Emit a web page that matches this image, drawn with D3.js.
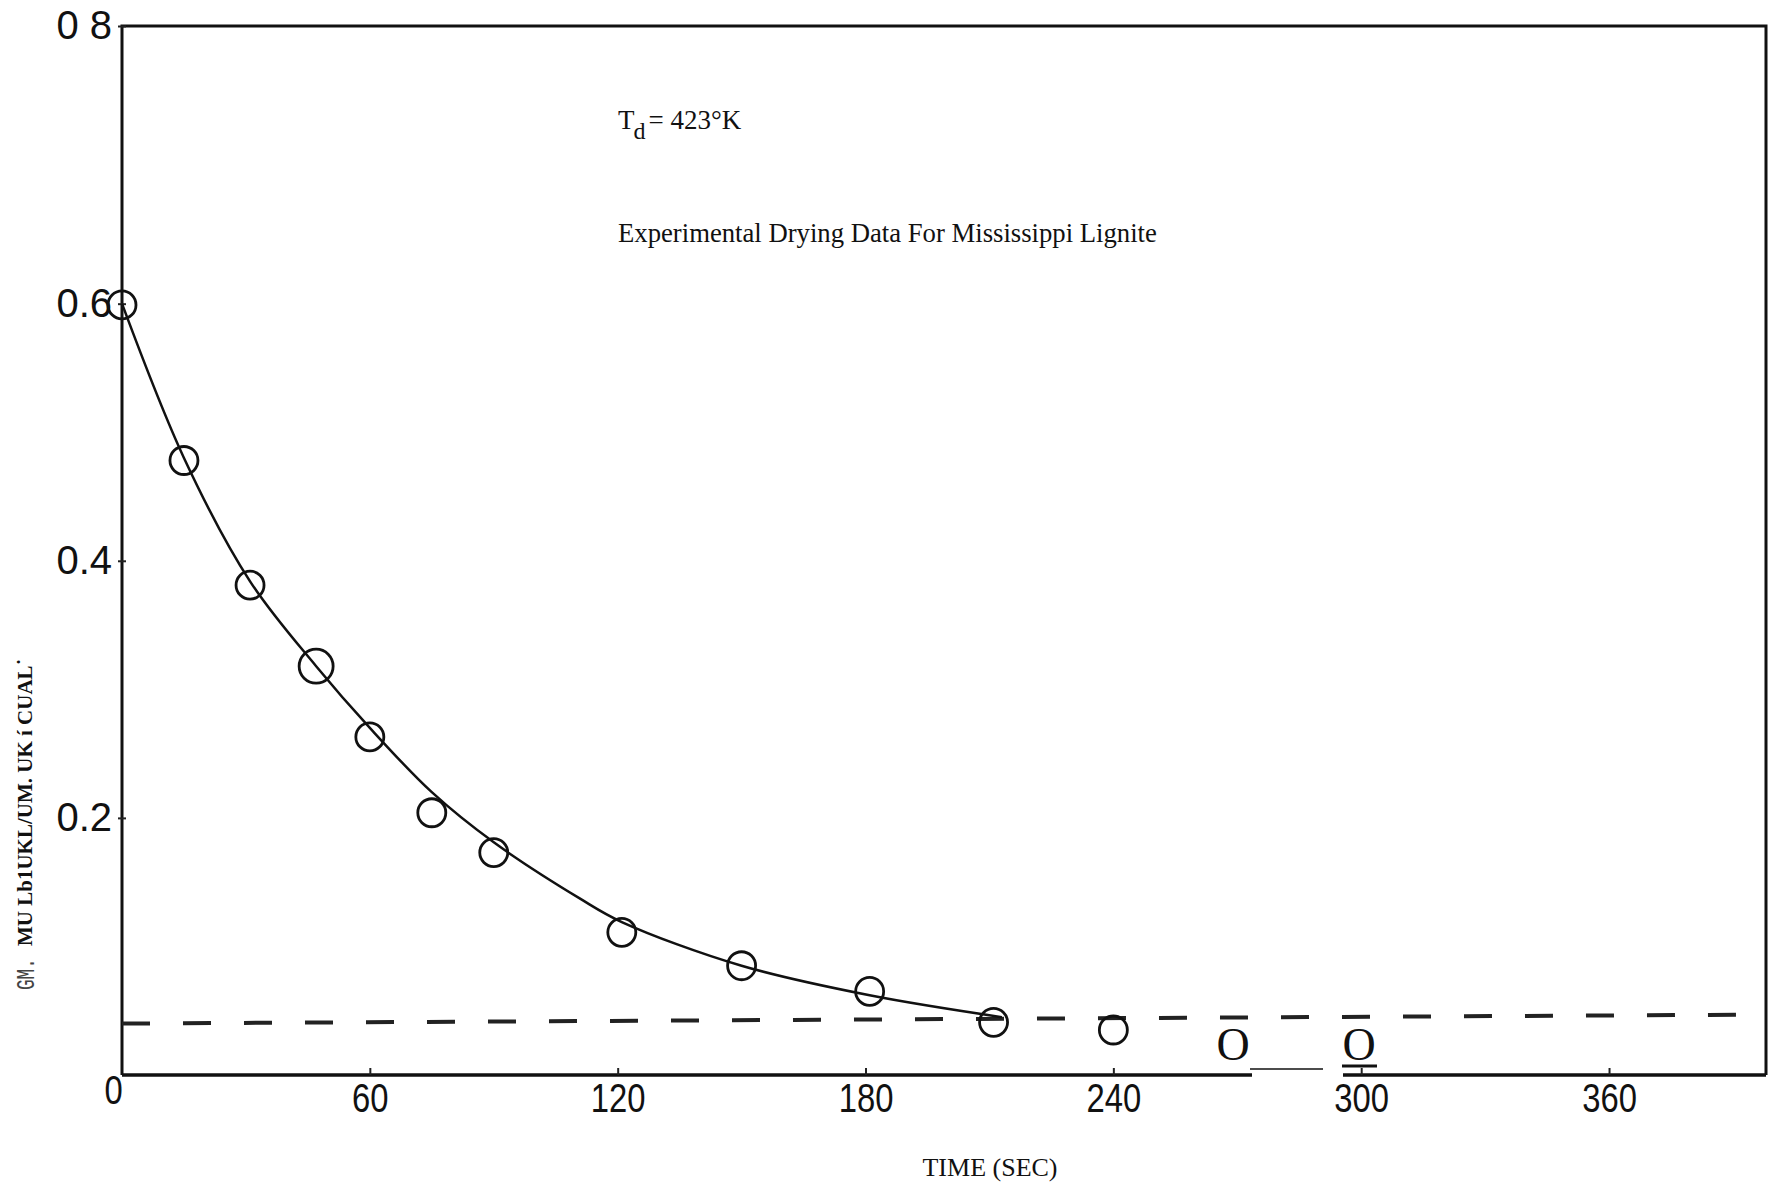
<!DOCTYPE html>
<html>
<head>
<meta charset="utf-8">
<script src="https://cdn.jsdelivr.net/npm/d3@7"></script>
<style>
  body { margin: 0; background: #fff; }
  svg { display: block; }
</style>
</head>
<body>
<div id="chart"></div>
<script>
const timeSec = [0, 15, 31, 47, 60, 75, 90, 121, 150, 181, 211, 240];
const moisture = [0.599, 0.478, 0.381, 0.318, 0.263, 0.204, 0.173, 0.111, 0.085, 0.065, 0.041, 0.035];

// hand drawn fit line
const curveTime = [0, 15, 31, 47, 60, 75, 90, 111, 121, 150, 181, 213];
const curveMoisture = [0.600, 0.480, 0.384, 0.318, 0.270, 0.220, 0.181, 0.137, 0.119, 0.085, 0.062, 0.045];

// equilibrium (dashed) line
const equilTime = [0, 398];
const equilMoisture = [0.040, 0.047];

const xTicks = [0, 60, 120, 180, 240, 300, 360];
const yTicks = [0.2, 0.4, 0.6, 0.816];
const yTickLabels = ["0.2", "0.4", "0.6", "0 8"];

const W = 1774, H = 1189;
const margin = { top: 26, right: 8, bottom: 114, left: 122 };

const svg = d3.select("#chart")
  .append("svg")
  .attr("width", W)
  .attr("height", H);

svg.append("rect").attr("width", W).attr("height", H).attr("fill", "#fff");

const x = d3.scaleLinear().domain([0, 398]).range([margin.left, W - margin.right]);
const y = d3.scaleLinear().domain([0, 0.816]).range([H - margin.bottom, margin.top]);

const x0 = x(0), x1 = x(398), yb = y(0), yt = y(0.816);

// frame: left, top, right
svg.append("path")
  .attr("d", `M${x0},${yb} L${x0},${yt} L${x1},${yt} L${x1},${yb}`)
  .attr("fill", "none")
  .attr("stroke", "#111")
  .attr("stroke-width", 3);

// bottom axis line, with the pasted-over gap near 300
const gapA = 1252, gapB = 1343;
svg.append("line").attr("x1", x0).attr("x2", gapA).attr("y1", yb).attr("y2", yb)
  .attr("stroke", "#111").attr("stroke-width", 3.5);
svg.append("line").attr("x1", gapB).attr("x2", x1).attr("y1", yb).attr("y2", yb)
  .attr("stroke", "#111").attr("stroke-width", 3.5);

// x axis ticks + labels (condensed like the scan)
const xAxis = d3.axisBottom(x).tickValues(xTicks).tickSize(-7).tickFormat(d3.format("d"));
const gx = svg.append("g")
  .attr("transform", `translate(0,${yb})`)
  .call(xAxis);
gx.select(".domain").remove();
gx.selectAll(".tick line").attr("stroke", "#222").attr("stroke-width", 2)
  .attr("opacity", d => d === 0 ? 0 : 1);
gx.selectAll(".tick text")
  .attr("y", d => d === 0 ? 29 : 37)
  .attr("dy", 0)
  .attr("x", d => d === 0 ? -11 : 0)
  .attr("transform", "scale(0.8,1)")
  .attr("fill", "#111")
  .style("font-family", "'Liberation Sans', Arial, sans-serif")
  .style("font-size", "41px");

// y axis ticks + labels
const yAxis = d3.axisLeft(y).tickValues(yTicks).tickSize(5).tickPadding(7)
  .tickFormat((d, i) => yTickLabels[i]);
const gy = svg.append("g")
  .attr("transform", `translate(${x0},0)`)
  .call(yAxis);
gy.select(".domain").remove();
gy.selectAll(".tick line").attr("x2", 4).attr("x1", -4).attr("stroke", "#222").attr("stroke-width", 2);
gy.selectAll(".tick text")
  .attr("x", -10)
  .attr("fill", "#111")
  .style("font-family", "'Liberation Sans', Arial, sans-serif")
  .style("font-size", "40px");

// dashed equilibrium line
svg.append("path")
  .datum(equilTime.map((t, i) => [t, equilMoisture[i]]))
  .attr("d", d3.line().x(d => x(d[0])).y(d => y(d[1])))
  .attr("fill", "none")
  .attr("stroke", "#222")
  .attr("stroke-width", 4)
  .attr("stroke-dasharray", "28,33");

// fitted curve
svg.append("path")
  .datum(curveTime.map((t, i) => [t, curveMoisture[i]]))
  .attr("d", d3.line().curve(d3.curveCatmullRom.alpha(0.5)).x(d => x(d[0])).y(d => y(d[1])))
  .attr("fill", "none")
  .attr("stroke", "#111")
  .attr("stroke-width", 2.5);

// data circles
svg.append("g")
  .selectAll("circle")
  .data(timeSec.map((t, i) => ({ t: t, v: moisture[i] })))
  .join("circle")
  .attr("cx", d => x(d.t))
  .attr("cy", d => y(d.v))
  .attr("r", (d, i) => i === 3 ? 17 : 14)
  .attr("fill", "none")
  .attr("stroke", "#111")
  .attr("stroke-width", 2.8);

// annotation texts
const serif = "'Liberation Serif', 'Times New Roman', serif";
const td = svg.append("text")
  .attr("x", 618).attr("y", 129)
  .style("font-family", serif).style("font-size", "27px").attr("fill", "#111");
td.append("tspan").text("T");
td.append("tspan").attr("dx", -1).attr("dy", 10).style("font-size", "24px").text("d");
td.append("tspan").attr("dx", 3).attr("dy", -10).text("= 423°K");

svg.append("text")
  .attr("x", 618).attr("y", 242)
  .style("font-family", serif).style("font-size", "26.7px").attr("fill", "#111")
  .text("Experimental Drying Data For Mississippi Lignite");

svg.append("text")
  .attr("x", 990).attr("y", 1176)
  .attr("text-anchor", "middle")
  .style("font-family", serif).style("font-size", "26px").attr("fill", "#111")
  .text("TIME (SEC)");

// the two pasted "O" marks near 300
svg.append("text")
  .attr("x", 1233).attr("y", 1060).attr("text-anchor", "middle")
  .style("font-family", serif).style("font-size", "46px").attr("fill", "#111")
  .text("O");
svg.append("text")
  .attr("x", 1359).attr("y", 1060).attr("text-anchor", "middle")
  .style("font-family", serif).style("font-size", "46px").attr("fill", "#111")
  .text("O");
svg.append("line").attr("x1", 1250).attr("x2", 1323).attr("y1", 1069).attr("y2", 1069)
  .attr("stroke", "#111").attr("stroke-width", 1.5);
svg.append("line").attr("x1", 1342).attr("x2", 1377).attr("y1", 1066).attr("y2", 1066)
  .attr("stroke", "#111").attr("stroke-width", 3);

// y axis title (garbled scan text kept as is)
svg.append("text")
  .attr("transform", "translate(32,946) rotate(-90)")
  .style("font-family", serif).style("font-size", "21px").style("font-weight", "bold")
  .attr("fill", "#111")
  .text("MU Lb1UKL/UM. UK í CUAL˙");
svg.append("text")
  .attr("transform", "translate(34,990) rotate(-90) scale(0.68,1)")
  .style("font-family", "'Liberation Mono', 'DejaVu Sans Mono', monospace").style("font-size", "26px")
  .attr("fill", "#444")
  .text("GM.");
</script>
</body>
</html>
